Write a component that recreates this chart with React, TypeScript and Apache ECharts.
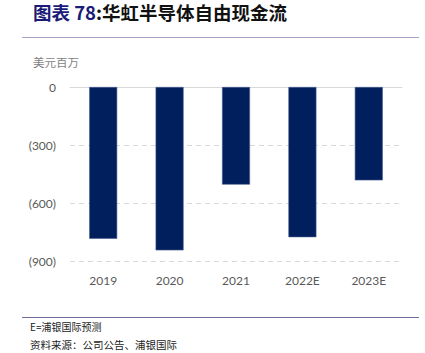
import React, { useEffect, useRef } from "react";
import * as echarts from "echarts";

const categories = ["2019", "2020", "2021", "2022E", "2023E"];
const freeCashFlow = [-785, -845, -505, -777, -483];
const yTicks = [0, -300, -600, -900];

export default function App() {
  const ref = useRef<HTMLDivElement>(null);
  useEffect(() => {
    document.body.style.margin = "0";
    const chart = echarts.init(ref.current!, null, { renderer: "svg" });
    chart.setOption({
      animation: false,
      backgroundColor: "#ffffff",
      grid: { left: 70, right: 23, top: 87, bottom: 92 },
      xAxis: [
        {
          type: "category",
          data: categories,
          position: "bottom",
          axisLine: { show: false, onZero: false },
          axisTick: { show: false },
          axisLabel: { color: "#595959", fontSize: 12, fontFamily: "Lato", margin: 13 },
        },
        {
          type: "category",
          data: categories,
          position: "top",
          axisLine: { show: true, lineStyle: { color: "#d9d9d9", width: 1 } },
          axisTick: { show: false },
          axisLabel: { show: false },
        },
      ],
      yAxis: {
        type: "value",
        min: yTicks[yTicks.length - 1],
        max: yTicks[0],
        interval: 300,
        axisLine: { show: false },
        axisTick: { show: false },
        axisLabel: {
          color: "#595959",
          fontSize: 12,
          fontFamily: "Lato",
          margin: 14,
          formatter: (v: number) => (v < 0 ? `(${Math.abs(v)})` : `${v}`),
        },
        splitLine: { lineStyle: { color: "#d9d9d9", type: [5, 4], width: 1 } },
      },
      series: [
        {
          type: "bar",
          data: freeCashFlow,
          barWidth: 28,
          itemStyle: { color: "#001f5c", borderColor: "#4a5f90", borderWidth: 0.6 },
        },
      ],
      graphic: [
        {
          type: "text",
          left: 33,
          top: 3,
          style: {
            text: "{a|图表 78}{b|:华虹半导体自由现金流}",
            rich: {
              a: { fontSize: 18.5, lineHeight: 20, fontWeight: "bold", fill: "#1b1b78", fontFamily: "Noto Sans CJK SC" },
              b: { fontSize: 18.5, lineHeight: 20, fontWeight: "bold", fill: "#111111", fontFamily: "Noto Sans CJK SC" },
            },
          },
        },
        {
          type: "line",
          shape: { x1: 22, y1: 37.5, x2: 419, y2: 37.5 },
          style: { stroke: "#a3a3c8", lineWidth: 1 },
        },
        {
          type: "text",
          left: 33,
          top: 56,
          style: { text: "美元百万", fontSize: 11.5, fill: "#7f7f7f", fontFamily: "Noto Sans CJK SC" },
        },
        {
          type: "line",
          shape: { x1: 22, y1: 317.5, x2: 419, y2: 317.5 },
          style: { stroke: "#6c6c9c", lineWidth: 1 },
        },
        {
          type: "text",
          left: 30,
          top: 321,
          style: { text: "E=浦银国际预测", fontSize: 10, fill: "#222222", fontFamily: "Noto Sans CJK SC" },
        },
        {
          type: "text",
          left: 30,
          top: 339,
          style: { text: "资料来源：公司公告、浦银国际", fontSize: 10.5, fill: "#222222", fontFamily: "Noto Sans CJK SC" },
        },
      ],
    });
    return () => chart.dispose();
  }, []);
  return (
    <div
      ref={ref}
      style={{ position: "absolute", left: 0, top: 0, width: 425, height: 353 }}
    />
  );
}
